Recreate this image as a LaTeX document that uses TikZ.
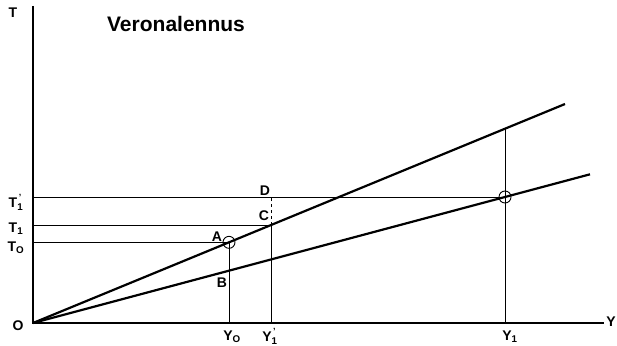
\documentclass[tikz,border=0pt]{standalone}
\usepackage{fontspec}
\setmainfont{Liberation Sans}
\usetikzlibrary{calc}
\newcommand{\lblsub}[2]{#1\textsubscript{#2}}
\newcommand{\lblpr}[2]{#1\rlap{\raisebox{0.55em}{\fontsize{9}{9}\selectfont\,'}}\textsubscript{#2}}

\begin{document}
\begin{tikzpicture}[
  x=1pt, y=-1pt,
  axis/.style={line width=1.8pt},
  ray/.style={line width=2.2pt},
  guide/.style={line width=0.9pt},
  ring/.style={circle, draw, line width=0.9pt, minimum size=12pt, inner sep=0pt},
  lbl/.style={font=\bfseries\fontsize{14}{14}\selectfont, inner sep=0pt},
]
  \useasboundingbox (0,0) rectangle (617,345);

  % axes
  \coordinate (O) at (33,323);
  \coordinate (ytop) at (33,6);
  \coordinate (xend) at (604,323);
  \draw[axis] (ytop) -- (O) -- (xend);

  % the two rays from the origin
  \coordinate (upend) at (565,104);
  \coordinate (loend) at (590,174.3);
  \draw[ray] (O) -- (upend);
  \draw[ray] (O) -- (loend);

  \coordinate (A) at ($(O)!0.3684!(upend)$);
  \coordinate (C) at ($(O)!0.4474!(upend)$);
  \coordinate (Yup) at ($(O)!0.8872!(upend)$);
  \coordinate (E) at ($(O)!0.8474!(loend)$);
  \coordinate (D) at (C |- E);

  % guide lines
  \draw[guide] (O |- A) -- (A) -- (O -| A);
  \draw[guide] (O |- C) -- (C) -- (O -| C);
  \draw[guide, dashed] (C) -- (D);
  \draw[guide] (O |- E) -- (E);
  \draw[guide] (Yup) -- (O -| Yup);

  \node[ring] (ringA) at (A) {};
  \node[ring] (ringE) at (E) {};

  % labels
  \node[font=\bfseries\fontsize{21}{21}\selectfont] (title) at (176,24) {Veronalennus};
  \node[lbl] (tT) at (13,13) {T};
  \node[lbl] (tO) at (18,326) {O};
  \node[lbl] (tY) at (611,322) {Y};
  \node[lbl] (tT0) at (16,248) {\lblsub{T}{O}};
  \node[lbl] (tT1) at (16,229) {\lblsub{T}{1}};
  \node[lbl] (tT1p) at (16,202) {\lblpr{T}{1}};
  \node[lbl] (tY0) at (232,337) {\lblsub{Y}{O}};
  \node[lbl] (tY1p) at (270,336) {\lblpr{Y}{1}};
  \node[lbl] (tY1) at (510,337) {\lblsub{Y}{1}};
  \node[lbl] (tA) at (217,237) {A};
  \node[lbl] (tB) at (222,283) {B};
  \node[lbl] (tC) at (264,216) {C};
  \node[lbl] (tD) at (265,191) {D};
\end{tikzpicture}
\end{document}
